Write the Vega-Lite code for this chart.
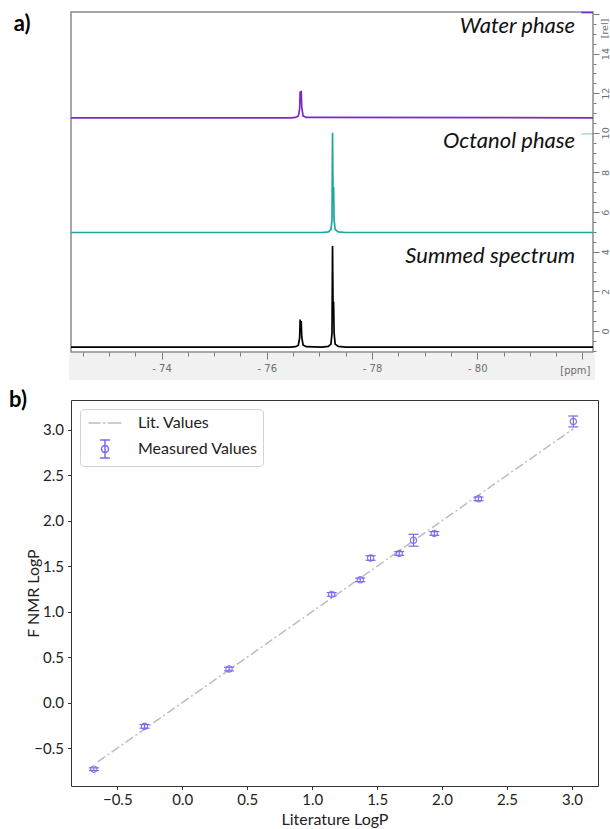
{
  "$schema": "https://vega.github.io/schema/vega-lite/v6.json",
  "padding": {"left": 8, "top": 11, "right": 0, "bottom": 0},
  "background": "white",
  "spacing": 7,
  "config": {"font": "Lato", "axis": {"grid": false}},
  "resolve": {"scale": {"x": "independent", "y": "independent", "color": "independent"}, "legend": {"color": "independent"}},
  "datasets": {
    "spectra": [
      {"x": -72.28, "y": 10.76, "s": "water"}, {"x": -76.45, "y": 10.76, "s": "water"}, {"x": -76.55, "y": 10.78, "s": "water"}, {"x": -76.6, "y": 10.85, "s": "water"}, {"x": -76.625, "y": 11.2, "s": "water"}, {"x": -76.635, "y": 12.1, "s": "water"}, {"x": -76.645, "y": 11.6, "s": "water"}, {"x": -76.655, "y": 12.12, "s": "water"}, {"x": -76.665, "y": 11.3, "s": "water"}, {"x": -76.69, "y": 10.86, "s": "water"}, {"x": -76.75, "y": 10.78, "s": "water"}, {"x": -82.22, "y": 10.76, "s": "water"},
      {"x": -72.28, "y": 4.97, "s": "octanol"}, {"x": -77.05, "y": 4.97, "s": "octanol"}, {"x": -77.17, "y": 5.0, "s": "octanol"}, {"x": -77.22, "y": 5.12, "s": "octanol"}, {"x": -77.24, "y": 5.6, "s": "octanol"}, {"x": -77.25, "y": 10.0, "s": "octanol"}, {"x": -77.26, "y": 6.8, "s": "octanol"}, {"x": -77.27, "y": 7.27, "s": "octanol"}, {"x": -77.28, "y": 5.6, "s": "octanol"}, {"x": -77.3, "y": 5.12, "s": "octanol"}, {"x": -77.36, "y": 5.0, "s": "octanol"}, {"x": -77.5, "y": 4.97, "s": "octanol"}, {"x": -82.22, "y": 4.97, "s": "octanol"},
      {"x": -72.28, "y": -0.81, "s": "sum"}, {"x": -76.45, "y": -0.81, "s": "sum"}, {"x": -76.55, "y": -0.79, "s": "sum"}, {"x": -76.6, "y": -0.72, "s": "sum"}, {"x": -76.625, "y": -0.35, "s": "sum"}, {"x": -76.635, "y": 0.58, "s": "sum"}, {"x": -76.645, "y": 0.1, "s": "sum"}, {"x": -76.655, "y": 0.5, "s": "sum"}, {"x": -76.665, "y": -0.3, "s": "sum"}, {"x": -76.69, "y": -0.7, "s": "sum"}, {"x": -76.75, "y": -0.79, "s": "sum"}, {"x": -77.05, "y": -0.81, "s": "sum"}, {"x": -77.17, "y": -0.78, "s": "sum"}, {"x": -77.22, "y": -0.66, "s": "sum"}, {"x": -77.24, "y": -0.1, "s": "sum"}, {"x": -77.25, "y": 4.29, "s": "sum"}, {"x": -77.26, "y": 1.2, "s": "sum"}, {"x": -77.27, "y": 1.48, "s": "sum"}, {"x": -77.28, "y": -0.1, "s": "sum"}, {"x": -77.3, "y": -0.66, "s": "sum"}, {"x": -77.36, "y": -0.78, "s": "sum"}, {"x": -77.5, "y": -0.81, "s": "sum"}, {"x": -82.22, "y": -0.81, "s": "sum"}
    ],
    "phases": [
      {"x": -81.86, "y": 15.05, "label": "Water phase"},
      {"x": -81.86, "y": 9.24, "label": "Octanol phase"},
      {"x": -81.86, "y": 3.43, "label": "Summed spectrum"}
    ],
    "lit": [
      {"x": -0.65, "y": -0.65, "s": "Lit. Values"},
      {"x": 3.01, "y": 3.01, "s": "Lit. Values"}
    ],
    "measured": [
      {"x": -0.68, "y": -0.73, "lo": -0.745, "hi": -0.715, "s": "Measured Values"},
      {"x": -0.29, "y": -0.26, "lo": -0.28, "hi": -0.24, "s": "Measured Values"},
      {"x": 0.36, "y": 0.37, "lo": 0.35, "hi": 0.39, "s": "Measured Values"},
      {"x": 1.15, "y": 1.19, "lo": 1.17, "hi": 1.21, "s": "Measured Values"},
      {"x": 1.37, "y": 1.35, "lo": 1.33, "hi": 1.37, "s": "Measured Values"},
      {"x": 1.45, "y": 1.59, "lo": 1.565, "hi": 1.615, "s": "Measured Values"},
      {"x": 1.67, "y": 1.64, "lo": 1.62, "hi": 1.66, "s": "Measured Values"},
      {"x": 1.78, "y": 1.785, "lo": 1.72, "hi": 1.85, "s": "Measured Values"},
      {"x": 1.94, "y": 1.86, "lo": 1.84, "hi": 1.88, "s": "Measured Values"},
      {"x": 2.28, "y": 2.24, "lo": 2.22, "hi": 2.26, "s": "Measured Values"},
      {"x": 3.01, "y": 3.09, "lo": 3.03, "hi": 3.15, "s": "Measured Values"}
    ]
  },
  "vconcat": [
    {
      "width": 522,
      "height": 340,
      "view": {"stroke": "#8a8a8a", "strokeWidth": 1.5},
      "encoding": {
        "x": {
          "field": "x", "type": "quantitative",
          "scale": {"domain": [-82.2, -72.28], "reverse": true, "nice": false, "zero": false},
          "axis": {
            "orient": "bottom",
            "values": [-72.5, -73, -73.5, -74, -74.5, -75, -75.5, -76, -76.5, -77, -77.5, -78, -78.5, -79, -79.5, -80, -80.5, -81, -81.5, -82],
            "domain": false,
            "tickColor": "#7a7a7a",
            "tickWidth": 1,
            "tickSize": {"condition": {"test": "datum.value % 2 == 0", "value": 7}, "value": 4},
            "labelExpr": "(datum.value % 2 == 0 && datum.value > -81) ? '- ' + abs(datum.value) : ''",
            "labelFont": "DejaVu Sans", "labelFontSize": 10, "labelColor": "#6e6e6e",
            "labelPadding": 4, "labelOverlap": false, "labelFlush": false,
            "title": "[ppm]", "titleFont": "DejaVu Sans", "titleFontSize": 10, "titleFontWeight": "normal", "titleColor": "#6e6e6e",
            "titleX": 519, "titleY": 18, "titleAlign": "right", "titleBaseline": "middle", "titleAnchor": "end",
            "zindex": 1
          }
        },
        "y": {
          "field": "y", "type": "quantitative",
          "scale": {"domain": [-1.06, 16.1], "nice": false, "zero": false},
          "axis": {
            "orient": "right",
            "values": [-1, -0.5, 0, 0.5, 1, 1.5, 2, 2.5, 3, 3.5, 4, 4.5, 5, 5.5, 6, 6.5, 7, 7.5, 8, 8.5, 9, 9.5, 10, 10.5, 11, 11.5, 12, 12.5, 13, 13.5, 14, 14.5, 15, 15.5, 16],
            "domain": false,
            "tickColor": "#7a7a7a",
            "tickSize": {"condition": {"test": "datum.value % 2 == 0", "value": 6}, "value": 3},
            "labelExpr": "(datum.value % 2 == 0 && datum.value >= 0 && datum.value <= 14) ? '' + datum.value : ''",
            "labelAngle": 270, "labelAlign": "center", "labelBaseline": "top",
            "labelFont": "DejaVu Sans", "labelFontSize": 9.5, "labelColor": "#6e6e6e",
            "labelPadding": 1, "labelOverlap": false, "labelFlush": false,
            "title": "[rel]", "titleFont": "DejaVu Sans", "titleFontSize": 9.5, "titleFontWeight": "normal", "titleColor": "#6e6e6e",
            "titleAngle": 270, "titleX": 11, "titleY": 16, "titleAlign": "center", "titleBaseline": "middle",
            "zindex": 1
          }
        }
      },
      "layer": [
        {
          "data": {"values": [{"x": -72.24, "x2": -82.24, "y": -1.11, "y2": -2.47}]},
          "mark": {"type": "rect", "color": "#f1f1f1", "clip": false},
          "encoding": {"x2": {"field": "x2"}, "y2": {"field": "y2"}}
        },
        {
          "data": {"name": "spectra"},
          "mark": {"type": "line", "strokeWidth": 1.7, "clip": true, "interpolate": "linear"},
          "encoding": {
            "color": {"field": "s", "type": "nominal", "scale": {"domain": ["water", "octanol", "sum"], "range": ["#7b2cbf", "#1fa6a0", "#000000"]}, "legend": null}
          }
        },
        {
          "data": {"values": [{"x": -81.98, "x2": -82.2, "y": 16.07, "s": "water", "o": 1}, {"x": -81.98, "x2": -82.2, "y": 9.95, "s": "octanol", "o": 0.4}]},
          "mark": {"type": "rule", "strokeWidth": 1.5},
          "encoding": {
            "x2": {"field": "x2"},
            "color": {"field": "s", "type": "nominal", "legend": null},
            "opacity": {"field": "o", "type": "quantitative", "scale": null, "legend": null}
          }
        },
        {
          "data": {"name": "phases"},
          "mark": {"type": "text", "align": "right", "baseline": "alphabetic", "font": "Lato", "fontStyle": "italic", "fontSize": 22, "color": "#111111"},
          "encoding": {"text": {"field": "label"}}
        },
        {
          "data": {"values": [{"x": -71.19, "y": 15.15, "label": "a)"}]},
          "mark": {"type": "text", "align": "left", "baseline": "alphabetic", "font": "Lato", "fontWeight": "bold", "fontSize": 22, "color": "#000000"},
          "encoding": {"text": {"field": "label"}}
        }
      ]
    },
    {
      "width": 527,
      "height": 386,
      "view": {"stroke": "#333333", "strokeWidth": 1},
      "encoding": {
        "x": {
          "field": "x", "type": "quantitative",
          "scale": {"domain": [-0.856, 3.2], "nice": false, "zero": false},
          "axis": {
            "values": [-0.5, 0, 0.5, 1, 1.5, 2, 2.5, 3], "format": ".1f",
            "domain": false, "tickSize": 3.5, "tickColor": "#333333",
            "labelFont": "Lato", "labelFontSize": 15, "labelColor": "#222222", "labelPadding": 3, "labelFlush": false,
            "title": "Literature LogP", "titleFont": "Lato", "titleFontSize": 16, "titleFontWeight": "normal", "titleColor": "#222222", "titlePadding": 4
          }
        },
        "y": {
          "field": "y", "type": "quantitative",
          "title": "F NMR LogP",
          "scale": {"domain": [-0.915, 3.326], "nice": false, "zero": false},
          "axis": {
            "values": [-0.5, 0, 0.5, 1, 1.5, 2, 2.5, 3], "format": ".1f",
            "domain": false, "tickSize": 3.5, "tickColor": "#333333",
            "labelFont": "Lato", "labelFontSize": 15, "labelColor": "#222222", "labelPadding": 4, "labelFlush": false,
            "titleFont": "Lato", "titleFontSize": 16, "titleFontWeight": "normal", "titleColor": "#222222",
            "titleX": -38, "titleY": 193, "titleAlign": "center", "titleBaseline": "middle"
          }
        }
      },
      "layer": [
        {
          "data": {"name": "lit"},
          "mark": {"type": "line", "strokeWidth": 1.5, "strokeDash": [9, 3, 2, 3]},
          "encoding": {
            "color": {
              "field": "s", "type": "nominal",
              "scale": {"domain": ["Lit. Values", "Measured Values"], "range": ["#bdbdbd", "#7b68ee"]},
              "legend": {
                "title": null, "orient": "top-left", "offset": 9,
                "fillColor": "white", "strokeColor": "#d2d2d2", "cornerRadius": 4, "padding": 5,
                "labelFont": "Lato", "labelFontSize": 16, "labelColor": "#222222", "labelOffset": 24,
                "symbolSize": 256, "symbolOffset": 11, "symbolStrokeWidth": 1.5, "rowPadding": 6,
                "encode": {
                  "symbols": {
                    "update": {
                      "shape": {"signal": "datum.value == 'Lit. Values' ? 'M-2.06,0H-0.55M-0.25,0H0.05M0.35,0H2.06' : 'M-0.62,-1.12H0.62M0,-1.12V1.12M-0.62,1.12H0.62M-0.44,0A0.44,0.44 0 1 0 0.44,0A0.44,0.44 0 1 0 -0.44,0'"},
                      "fill": {"value": "transparent"},
                      "strokeDash": {"value": []},
                      "opacity": {"value": 1}
                    }
                  }
                }
              }
            }
          }
        },
        {
          "data": {"name": "measured"},
          "mark": {"type": "rule", "color": "#7b68ee", "strokeWidth": 1.2},
          "encoding": {
            "y": {"field": "lo", "type": "quantitative", "title": "F NMR LogP"},
            "y2": {"field": "hi"}
          }
        },
        {
          "data": {"name": "measured"},
          "mark": {"type": "tick", "orient": "horizontal", "size": 10, "thickness": 1.2, "color": "#7b68ee", "opacity": 1},
          "encoding": {"y": {"field": "lo", "type": "quantitative", "title": "F NMR LogP"}}
        },
        {
          "data": {"name": "measured"},
          "mark": {"type": "tick", "orient": "horizontal", "size": 10, "thickness": 1.2, "color": "#7b68ee", "opacity": 1},
          "encoding": {"y": {"field": "hi", "type": "quantitative", "title": "F NMR LogP"}}
        },
        {
          "data": {"name": "measured"},
          "mark": {"type": "point", "shape": "circle", "filled": false, "size": 40, "strokeWidth": 1.2, "opacity": 0.9},
          "encoding": {
            "color": {"field": "s", "type": "nominal"}
          }
        },
        {
          "data": {"values": [{"x": -1.333, "y": 3.25, "label": "b)"}]},
          "mark": {"type": "text", "align": "left", "baseline": "alphabetic", "font": "Lato", "fontWeight": "bold", "fontSize": 22, "color": "#000000"},
          "encoding": {"text": {"field": "label"}}
        }
      ]
    }
  ]
}
